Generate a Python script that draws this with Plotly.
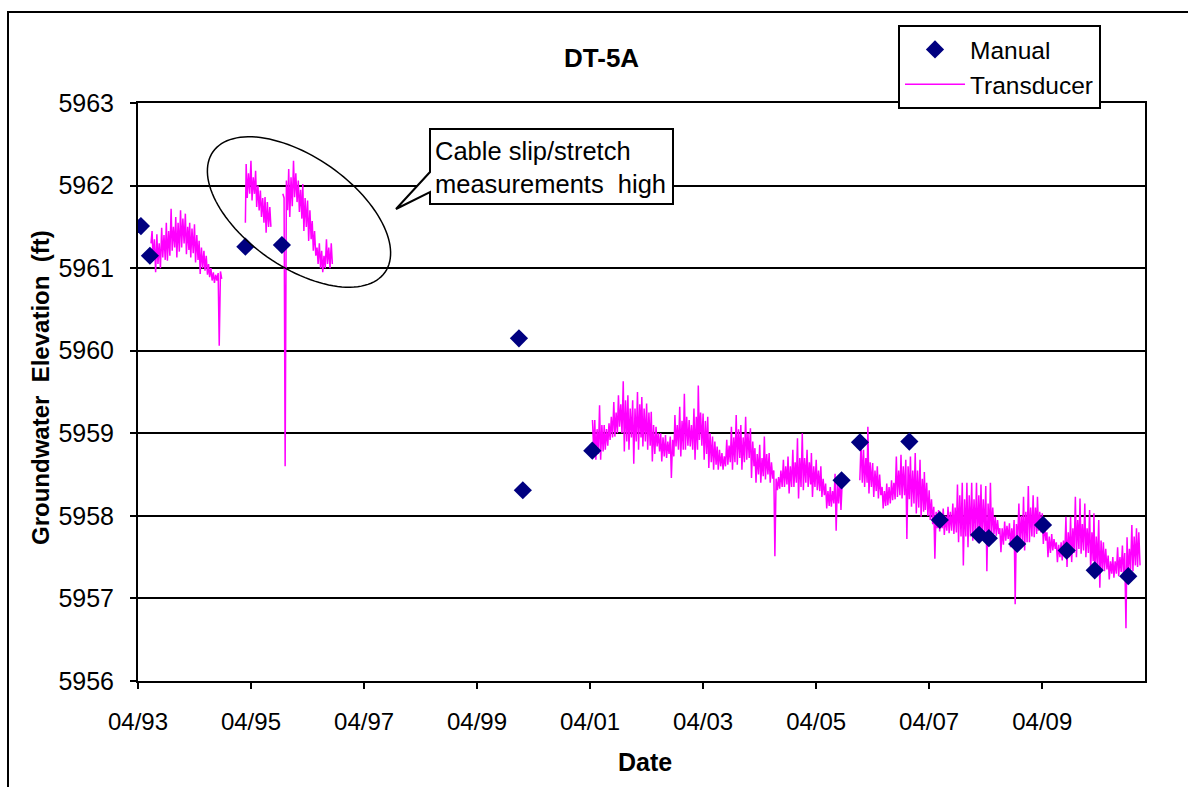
import numpy as np
import plotly.graph_objects as go

# ---------------- data ----------------
manual_dates = ["1993-04-20", "1993-06-17", "1995-02-24", "1995-10-18", "1999-12-28",
                "2000-01-22", "2001-04-15", "2005-09-12", "2006-01-09", "2006-11-24",
                "2007-06-09", "2008-02-18", "2008-04-21", "2008-10-21", "2009-04-06",
                "2009-09-06", "2010-03-06", "2010-10-09"]
manual_vals = [5961.51, 5961.15, 5961.26, 5961.28, 5960.15, 5958.31, 5958.79, 5958.43,
               5958.89, 5958.90, 5957.95, 5957.77, 5957.73, 5957.66, 5957.89, 5957.58,
               5957.34, 5957.27]

# transducer readings: four readings per month, taken on these days
reading_days = [1, 8, 16, 24]

seg_a_months = ["1993-06", "1993-07", "1993-08", "1993-09", "1993-10", "1993-11", "1993-12",
                "1994-01", "1994-02", "1994-03", "1994-04", "1994-05", "1994-06", "1994-07",
                "1994-08", "1994-09"]
seg_a_vals = [
    [None, None, None, 5961.30],
    [5961.45, 5961.09, 5961.35, 5960.95],
    [5961.41, 5961.05, 5961.30, 5961.00],
    [5961.49, 5961.13, 5961.40, 5961.10],
    [5961.55, 5961.09, 5961.45, 5961.15],
    [5961.72, 5961.21, 5961.50, 5961.25],
    [5961.62, 5961.13, 5961.55, 5961.20],
    [5961.70, 5961.25, 5961.60, 5961.30],
    [5961.66, 5961.17, 5961.50, 5961.22],
    [5961.55, 5961.13, 5961.48, 5961.18],
    [5961.53, 5961.07, 5961.40, 5961.10],
    [5961.33, 5960.93, 5961.25, 5961.00],
    [5961.21, 5960.97, 5961.15, 5960.92],
    [5961.05, 5960.89, 5961.00, 5960.85],
    [5960.95, 5960.82, 5960.92, 5960.85],
    [5960.94, 5960.06, 5960.96, 5960.87],
]

seg_b1_months = ["1995-02", "1995-03", "1995-04", "1995-05", "1995-06", "1995-07", "1995-08"]
seg_b1_vals = [
    [None, None, None, 5961.55],
    [5962.26, 5961.85, 5962.15, 5961.90],
    [5962.30, 5961.82, 5962.10, 5961.90],
    [5962.18, 5961.74, 5962.00, 5961.70],
    [5961.94, 5961.62, 5961.85, 5961.55],
    [5961.86, 5961.43, 5961.80, 5961.50],
    [5961.74, 5961.50, None, None],
]

seg_b2_months = ["1995-10", "1995-11", "1995-12", "1996-01", "1996-02", "1996-03", "1996-04",
                 "1996-05", "1996-06", "1996-07", "1996-08", "1996-09"]
seg_b2_vals = [
    [None, None, None, 5961.90],
    [5961.85, 5958.60, 5962.06, 5961.70],
    [5962.20, 5961.62, 5962.10, 5961.75],
    [5962.30, 5961.86, 5962.15, 5961.80],
    [5962.06, 5961.68, 5961.95, 5961.60],
    [5962.02, 5961.45, 5961.85, 5961.50],
    [5961.82, 5961.33, 5961.70, 5961.35],
    [5961.57, 5961.21, 5961.45, 5961.15],
    [5961.25, 5961.05, 5961.30, 5961.00],
    [5961.21, 5960.95, 5961.15, 5961.00],
    [5961.35, 5961.05, 5961.25, 5961.00],
    [5961.30, 5961.05, None, None],
]

seg_c1_months = ["2001-04", "2001-05", "2001-06", "2001-07", "2001-08", "2001-09", "2001-10",
                 "2001-11", "2001-12", "2002-01", "2002-02", "2002-03", "2002-04", "2002-05",
                 "2002-06", "2002-07", "2002-08", "2002-09", "2002-10", "2002-11", "2002-12",
                 "2003-01", "2003-02", "2003-03", "2003-04", "2003-05", "2003-06", "2003-07",
                 "2003-08", "2003-09", "2003-10", "2003-11", "2003-12", "2004-01", "2004-02",
                 "2004-03", "2004-04", "2004-05", "2004-06", "2004-07", "2004-08", "2004-09",
                 "2004-10", "2004-11", "2004-12", "2005-01", "2005-02", "2005-03", "2005-04",
                 "2005-05", "2005-06", "2005-07", "2005-08", "2005-09"]
seg_c1_vals = [
    [None, None, 5959.16, 5958.80],
    [5959.16, 5958.68, 5959.05, 5958.75],
    [5959.34, 5958.68, 5959.10, 5958.78],
    [5959.10, 5958.80, 5959.05, 5958.85],
    [5959.12, 5958.92, 5959.20, 5958.95],
    [5959.38, 5958.96, 5959.25, 5959.00],
    [5959.46, 5959.08, 5959.35, 5959.00],
    [5959.63, 5958.78, 5959.40, 5958.90],
    [5959.46, 5958.80, 5959.30, 5958.95],
    [5959.40, 5958.63, 5959.30, 5958.90],
    [5959.50, 5958.80, 5959.35, 5958.95],
    [5959.44, 5958.84, 5959.30, 5958.90],
    [5959.36, 5958.80, 5959.25, 5958.85],
    [5959.26, 5958.66, 5959.10, 5958.75],
    [5959.08, 5958.84, 5959.00, 5958.78],
    [5959.00, 5958.66, 5958.95, 5958.72],
    [5958.98, 5958.70, 5958.90, 5958.75],
    [5958.96, 5958.46, 5958.92, 5958.72],
    [5959.22, 5958.84, 5959.10, 5958.80],
    [5959.32, 5958.72, 5959.15, 5958.80],
    [5959.48, 5958.80, 5959.20, 5958.85],
    [5959.16, 5958.84, 5959.10, 5958.80],
    [5959.30, 5958.68, 5959.20, 5958.80],
    [5959.58, 5958.92, 5959.25, 5958.85],
    [5959.24, 5958.68, 5959.15, 5958.75],
    [5959.20, 5958.58, 5959.00, 5958.65],
    [5958.96, 5958.56, 5958.90, 5958.62],
    [5958.84, 5958.56, 5958.80, 5958.60],
    [5958.76, 5958.56, 5958.72, 5958.60],
    [5958.92, 5958.62, 5958.85, 5958.65],
    [5959.08, 5958.56, 5958.95, 5958.65],
    [5959.22, 5958.62, 5959.05, 5958.70],
    [5959.10, 5958.56, 5958.95, 5958.65],
    [5959.20, 5958.68, 5959.00, 5958.70],
    [5959.06, 5958.46, 5958.90, 5958.60],
    [5958.82, 5958.40, 5958.75, 5958.50],
    [5958.86, 5958.40, 5958.70, 5958.48],
    [5958.96, 5958.44, 5958.75, 5958.50],
    [5958.76, 5958.40, 5958.65, 5958.45],
    [5958.55, 5957.51, 5958.45, 5958.31],
    [5958.47, 5958.33, 5958.55, 5958.35],
    [5958.68, 5958.35, 5958.60, 5958.38],
    [5958.72, 5958.27, 5958.60, 5958.35],
    [5958.80, 5958.35, 5958.65, 5958.40],
    [5958.94, 5958.21, 5958.70, 5958.35],
    [5959.00, 5958.31, 5958.70, 5958.40],
    [5958.80, 5958.35, 5958.65, 5958.38],
    [5958.76, 5958.23, 5958.60, 5958.35],
    [5958.68, 5958.31, 5958.55, 5958.30],
    [5958.60, 5958.23, 5958.45, 5958.25],
    [5958.39, 5958.09, 5958.30, 5958.12],
    [5958.35, 5958.11, 5958.30, 5958.15],
    [5958.51, 5957.82, 5958.40, 5958.15],
    [5958.47, 5958.07, 5958.40, None],
]

seg_c2_months = ["2006-01", "2006-02", "2006-03", "2006-04", "2006-05", "2006-06", "2006-07",
                 "2006-08", "2006-09", "2006-10", "2006-11", "2006-12", "2007-01", "2007-02",
                 "2007-03", "2007-04", "2007-05", "2007-06", "2007-07", "2007-08", "2007-09",
                 "2007-10", "2007-11", "2007-12", "2008-01", "2008-02", "2008-03", "2008-04",
                 "2008-05", "2008-06", "2008-07", "2008-08", "2008-09", "2008-10", "2008-11",
                 "2008-12", "2009-01", "2009-02", "2009-03", "2009-04", "2009-05", "2009-06",
                 "2009-07", "2009-08", "2009-09", "2009-10", "2009-11", "2009-12", "2010-01",
                 "2010-02", "2010-03", "2010-04", "2010-05", "2010-06", "2010-07", "2010-08",
                 "2010-09", "2010-10", "2010-11", "2010-12"]
seg_c2_vals = [
    [None, 5958.43, 5958.90, 5958.40],
    [5958.80, 5958.35, 5958.70, 5958.40],
    [5959.08, 5958.27, 5958.65, 5958.35],
    [5958.64, 5958.23, 5958.55, 5958.30],
    [5958.60, 5958.21, 5958.50, 5958.25],
    [5958.35, 5958.09, 5958.30, 5958.12],
    [5958.39, 5958.13, 5958.35, 5958.15],
    [5958.43, 5958.19, 5958.40, 5958.20],
    [5958.72, 5958.23, 5958.55, 5958.25],
    [5958.74, 5958.21, 5958.60, 5958.25],
    [5958.68, 5957.72, 5958.60, 5958.20],
    [5958.72, 5958.11, 5958.55, 5958.15],
    [5958.76, 5958.03, 5958.55, 5958.10],
    [5958.68, 5957.99, 5958.45, 5958.05],
    [5958.53, 5958.07, 5958.40, 5958.00],
    [5958.31, 5957.95, 5958.20, 5957.90],
    [5958.11, 5957.48, 5958.05, 5957.85],
    [5958.07, 5957.81, 5958.00, 5957.85],
    [5958.09, 5957.77, 5958.00, 5957.82],
    [5958.11, 5957.79, 5958.05, 5957.82],
    [5958.15, 5957.78, 5958.10, 5957.80],
    [5958.38, 5957.68, 5958.25, 5957.75],
    [5958.40, 5957.40, 5958.20, 5957.75],
    [5958.40, 5957.62, 5958.25, 5957.75],
    [5958.40, 5957.70, 5958.20, 5957.78],
    [5958.40, 5957.68, 5958.25, 5957.75],
    [5958.38, 5957.74, 5958.20, 5957.78],
    [5958.36, 5957.33, 5958.15, 5957.75],
    [5958.40, 5957.74, 5958.10, 5957.78],
    [5957.99, 5957.76, 5957.95, 5957.78],
    [5957.85, 5957.56, 5957.85, 5957.65],
    [5957.93, 5957.70, 5957.88, 5957.72],
    [5957.91, 5957.62, 5957.85, 5957.68],
    [5957.95, 5956.93, 5957.90, 5957.70],
    [5958.15, 5957.64, 5958.00, 5957.70],
    [5958.23, 5957.58, 5958.05, 5957.68],
    [5958.36, 5957.68, 5958.10, 5957.75],
    [5958.25, 5957.74, 5958.10, 5957.78],
    [5958.23, 5957.82, 5958.05, 5957.80],
    [5958.03, 5957.66, 5957.90, 5957.70],
    [5957.80, 5957.50, 5957.75, 5957.55],
    [5957.78, 5957.58, 5957.72, 5957.60],
    [5957.68, 5957.44, 5957.65, 5957.50],
    [5957.68, 5957.46, 5957.70, 5957.50],
    [5957.99, 5957.38, 5957.80, 5957.50],
    [5957.99, 5957.44, 5957.85, 5957.55],
    [5958.23, 5957.50, 5957.95, 5957.60],
    [5958.21, 5957.54, 5957.90, 5957.58],
    [5958.15, 5957.50, 5957.85, 5957.55],
    [5958.07, 5957.33, 5957.80, 5957.45],
    [5958.03, 5957.25, 5957.75, 5957.40],
    [5957.95, 5957.13, 5957.70, 5957.35],
    [5957.68, 5957.33, 5957.60, 5957.35],
    [5957.52, 5957.23, 5957.45, 5957.30],
    [5957.50, 5957.25, 5957.45, 5957.30],
    [5957.62, 5957.27, 5957.50, 5957.32],
    [5957.64, 5957.27, 5957.55, 5956.64],
    [5957.74, 5957.25, 5957.60, 5957.35],
    [5957.89, 5957.33, 5957.75, 5957.40],
    [5957.85, 5957.38, 5957.80, 5957.40],
]

tick_dates = ["1993-04-01", "1995-04-01", "1997-04-01", "1999-04-01", "2001-04-01",
              "2003-04-01", "2005-04-01", "2007-04-01", "2009-04-01"]
tick_labels = ["04/93", "04/95", "04/97", "04/99", "04/01", "04/03", "04/05", "04/07", "04/09"]
y_ticks = [5956, 5957, 5958, 5959, 5960, 5961, 5962, 5963]


def segment(months, vals):
    xs, ys = [], []
    for m, row in zip(months, vals):
        for d, v in zip(reading_days, row):
            if v is not None:
                xs.append(f"{m}-{d:02d}")
                ys.append(v)
    return xs, ys


trans_x, trans_y = [], []
for mo, va in [(seg_a_months, seg_a_vals), (seg_b1_months, seg_b1_vals),
               (seg_b2_months, seg_b2_vals), (seg_c1_months, seg_c1_vals),
               (seg_c2_months, seg_c2_vals)]:
    sx, sy = segment(mo, va)
    if trans_x:
        trans_x.append(None)
        trans_y.append(None)
    trans_x += sx
    trans_y += sy

# ---------------- layout geometry ----------------
W_FIG, H_FIG = 1188, 787
L, R, T, B = 138, 43, 103, 106
PW = W_FIG - L - R
PH = H_FIG - T - B
FONT = "Arial, Liberation Sans, sans-serif"


def P(px, py):
    return (px - L) / PW, (H_FIG - B - py) / PH


fig = go.Figure()
fig.add_trace(go.Scatter(x=trans_x, y=trans_y, mode="lines", name="Transducer",
                         line=dict(color="#FF00FF", width=1.5), connectgaps=False))
fig.add_trace(go.Scatter(x=manual_dates, y=manual_vals, mode="markers", name="Manual",
                         marker=dict(symbol="diamond", size=14, color="#000080",
                                     line=dict(width=0))))

shapes = []
x0, y0 = P(8, 12)
x1, y1 = P(1200, 800)
shapes.append(dict(type="rect", xref="paper", yref="paper", x0=x0, y0=y1, x1=x1, y1=y0,
                   line=dict(color="black", width=2), fillcolor="rgba(0,0,0,0)", layer="below"))

cx, cy, a, b, th = 299, 212, 105, 55, np.radians(35)
pts = []
for t in np.linspace(0, 2 * np.pi, 121):
    ex = cx + a * np.cos(t) * np.cos(th) - b * np.sin(t) * np.sin(th)
    ey = cy + a * np.cos(t) * np.sin(th) + b * np.sin(t) * np.cos(th)
    pts.append(P(ex, ey))
path = "M " + " L ".join(f"{px:.5f},{py:.5f}" for px, py in pts) + " Z"
shapes.append(dict(type="path", xref="paper", yref="paper", path=path,
                   line=dict(color="black", width=1.5)))

callout = [(430, 129), (673, 129), (673, 204), (430, 204), (430, 192), (396, 209), (430, 172)]
cpath = "M " + " L ".join(f"{P(px, py)[0]:.5f},{P(px, py)[1]:.5f}" for px, py in callout) + " Z"
shapes.append(dict(type="path", xref="paper", yref="paper", path=cpath,
                   line=dict(color="black", width=2), fillcolor="white"))

annotations = []
tx, ty = P(601, 58)
annotations.append(dict(text="<b>DT-5A</b>", x=tx, y=ty, xref="paper", yref="paper",
                        xanchor="center", yanchor="middle", showarrow=False,
                        font=dict(family=FONT, size=26, color="black")))
tx, ty = P(645, 762)
annotations.append(dict(text="<b>Date</b>", x=tx, y=ty, xref="paper", yref="paper",
                        xanchor="center", yanchor="middle", showarrow=False,
                        font=dict(family=FONT, size=25, color="black")))
tx, ty = P(40, 388)
annotations.append(dict(text="<b>Groundwater  Elevation  (ft)</b>", x=tx, y=ty, xref="paper",
                        yref="paper", textangle=-90, xanchor="center", yanchor="middle",
                        showarrow=False, font=dict(family=FONT, size=24, color="black")))
tx, ty = P(433, 167)
annotations.append(dict(text="Cable slip/stretch<br>measurements  high", x=tx, y=ty,
                        xref="paper", yref="paper", xanchor="left", yanchor="middle",
                        align="left", showarrow=False,
                        font=dict(family=FONT, size=25.5, color="black")))

lx, ly = P(898, 25)
fig.update_layout(
    width=W_FIG, height=H_FIG,
    margin=dict(l=L, r=R, t=T, b=B, pad=0),
    paper_bgcolor="white", plot_bgcolor="white",
    font=dict(family=FONT, size=24, color="black"),
    showlegend=True,
    legend=dict(x=lx, y=ly, xanchor="left", yanchor="top", xref="paper", yref="paper",
                bgcolor="white", bordercolor="black", borderwidth=2, itemwidth=60,
                font=dict(family=FONT, size=24.5, color="black"), traceorder="reversed"),
    shapes=shapes, annotations=annotations,
    xaxis=dict(type="date", range=["1993-04-01", "2011-01-25"], tickvals=tick_dates,
               ticktext=tick_labels, ticks="outside", ticklen=6, tickwidth=2,
               tickcolor="black", showline=True, linecolor="black", linewidth=2,
               mirror=True, showgrid=False, zeroline=False, ticklabelstandoff=12,
               tickfont=dict(family=FONT, size=24, color="black")),
    yaxis=dict(range=[5956, 5963], tickvals=y_ticks, ticks="outside", ticklen=6,
               tickwidth=2, tickcolor="black", showline=True, linecolor="black",
               linewidth=2, mirror=True, showgrid=True, gridcolor="black", gridwidth=1.5,
               zeroline=False, ticklabelstandoff=11, tickformat="d",
               tickfont=dict(family=FONT, size=25, color="black")),
)

fig.write_html("out.html", config={"displayModeBar": False},
               post_script="document.body.style.margin='0';")
